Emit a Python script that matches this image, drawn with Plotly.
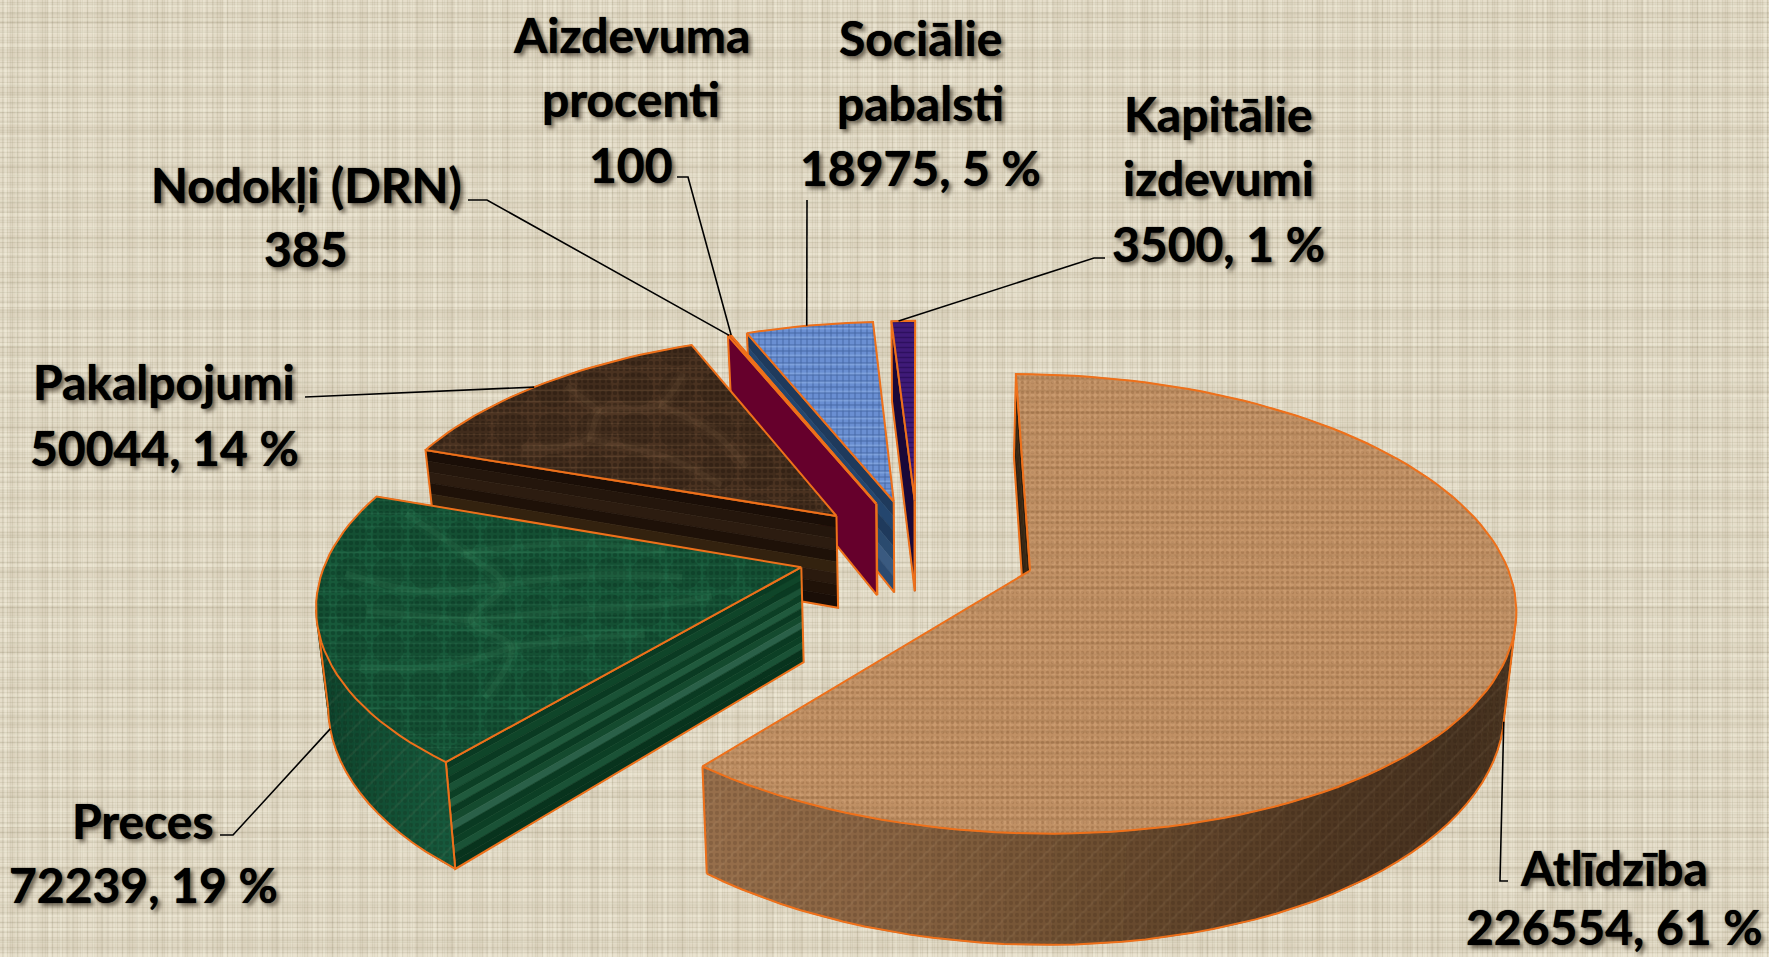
import math
import plotly.graph_objects as go

# ---- data ----
slice_names = ["Atlīdzība", "Preces", "Pakalpojumi", "Nodokļi (DRN)", "Aizdevuma procenti", "Sociālie pabalsti", "Kapitālie izdevumi"]
slice_values = [226554, 72239, 50044, 385, 100, 18975, 3500]
label_lines = [
    ["Atlīdzība", "226554, 61 %"],
    ["Preces", "72239, 19 %"],
    ["Pakalpojumi", "50044, 14 %"],
    ["Nodokļi (DRN)", "385"],
    ["Aizdevuma", "procenti", "100"],
    ["Sociālie", "pabalsti", "18975, 5 %"],
    ["Kapitālie", "izdevumi", "3500, 1 %"],
]

# ---- style ----
W, H_PX = 1769, 957
explode = [0.245, 0.25, 0.24, 0.24, 0.24, 0.24, 0.24]
radius = [0.985, 0.985, 0.98, 0.98, 0.98, 0.98, 0.98]
CX, CY, S, SE, K, T, DEPTH = 918, 552, 480, 223, 0.145, 0.02, 94
ORANGE = "#EE701A"
top_col = ["#C09064", "#17593A", "#4A3220", "#7A0030", "#7A0030", "#6A8FD2", "#3F1A78"]
top_pat = [
    [(".", "rgba(130,84,46,0.30)", 5, 0.35), (".", "rgba(225,180,135,0.28)", 7, 0.3), ("-", "rgba(120,78,42,0.18)", 11, 0.2)],
    [(".", "rgba(8,50,30,0.40)", 6, 0.45), (".", "rgba(8,45,28,0.22)", 37, 0.6), ("-", "rgba(70,150,110,0.20)", 13, 0.12)],
    [(".", "rgba(30,18,10,0.38)", 6, 0.45), (".", "rgba(30,18,10,0.20)", 41, 0.6), ("-", "rgba(150,115,80,0.20)", 11, 0.12)],
    [], [],
    [("+", "rgba(45,75,135,0.60)", 6, 0.3), ("-", "rgba(170,200,245,0.3)", 9, 0.2)],
    [("-", "rgba(30,5,70,0.5)", 5, 0.3)],
]
# marble veins: polylines given as (fraction across the slice's angle, fraction of its radius)
veins = {
    1: [
        [(0.95, 0.90), (0.80, 0.72), (0.62, 0.62), (0.45, 0.70), (0.28, 0.66), (0.12, 0.80)],
        [(0.62, 0.62), (0.66, 0.42), (0.58, 0.25)],
        [(0.80, 0.72), (0.90, 0.50), (0.93, 0.30)],
        [(0.45, 0.70), (0.40, 0.48), (0.30, 0.34), (0.22, 0.22)],
        [(0.28, 0.66), (0.20, 0.50), (0.10, 0.42)],
        [(0.55, 0.90), (0.45, 0.70)],
        [(0.35, 0.95), (0.28, 0.80), (0.28, 0.66)],
        [(0.70, 0.95), (0.62, 0.80), (0.62, 0.62)],
    ],
    2: [
        [(0.90, 0.85), (0.70, 0.72), (0.50, 0.78), (0.30, 0.70), (0.12, 0.80)],
        [(0.70, 0.72), (0.74, 0.50), (0.62, 0.32)],
        [(0.30, 0.70), (0.36, 0.48), (0.22, 0.30)],
        [(0.50, 0.78), (0.55, 0.95)],
    ],
}
vein_rgb = {1: "100,190,145", 2: "175,140,100"}
radial_bands = {
    0: ["#2E1F10", "#3A2814", "#2E1F10"],
    1: ["#0A3A22", "#0F4529", "#0A3A22", "#1A5236", "#0C3F25", "#205A3D", "#0A3A22", "#144A2E",
        "#2A6048", "#0A3A22", "#0C3F25", "#1A5236", "#08331D", "#08331D"],
    2: ["#1A0E07", "#24160C", "#2C1C10", "#1E1108", "#33220F", "#2A1A0E", "#201208", "#1A0E07"],
    3: ["#66002C"], 4: ["#66002C"],
    5: ["#1F3A5C", "#24466E", "#1F3A5C", "#2A4A6E", "#3A5A80", "#2B4A70"],
    6: ["#1A0838"],
}
curve_grad = {
    0: [(75, 54, 34), (70, 50, 32), (80, 56, 35), (105, 75, 47), (135, 98, 65), (150, 110, 75)],
    1: [(22, 88, 60), (18, 78, 52), (15, 70, 46), (12, 62, 42)],
    2: [(30, 18, 10), (30, 18, 10)],
    3: [(102, 0, 44), (102, 0, 44)], 4: [(102, 0, 44), (102, 0, 44)],
    5: [(40, 70, 110), (40, 70, 110)], 6: [(26, 8, 56), (26, 8, 56)],
}
draw_order = [6, 5, 4, 3, 2, 1, 0]
label_pos = {
    0: [(1614, 867), (1614, 926)],
    1: [(143, 820), (143, 884)],
    2: [(164, 381), (164, 447)],
    3: [(306, 184), (306, 248)],
    4: [(631, 34), (631, 98), (631, 164)],
    5: [(920, 37), (920, 102), (920, 167)],
    6: [(1218, 113), (1218, 177), (1218, 243)],
}
# leader: elbow points of the label end, then the slice index, arc fraction and depth fraction it hits
leaders = [
    ([(1508, 881), (1500, 881)], 0, 0.47, 1.0),
    ([(220, 835), (233, 835)], 1, 0.50, 1.0),
    ([(305, 397)], 2, 0.48, 0.0),
    ([(468, 200), (487, 200)], 3, 0.5, 0.0),
    ([(677, 177), (688, 177)], 4, 0.5, 0.0),
    ([(807, 200), (807, 226)], 5, 0.48, 0.0),
    ([(1105, 258), (1094, 258)], 6, 0.3, 0.0),
]

# ---- geometry from values ----
total = sum(slice_values)
edges = [0.0]
for v in slice_values:
    edges.append(edges[-1] + v / total * 360)


def dir_of(deg):
    a = math.radians(deg)
    return math.sin(a), math.cos(a)


def proj(X, Y, z=0.0):
    d = 1 + K * Y
    x = CX + S * X / d
    y = CY - SE * Y / d
    x = CX + (x - CX) * (1 - T * z)
    return x, y + DEPTH * z / d


def apex(i):
    b = (edges[i] + edges[i + 1]) / 2
    dx, dy = dir_of(b)
    return explode[i] * dx, explode[i] * dy


def rim(i, deg, frac=1.0):
    ax, ay = apex(i)
    dx, dy = dir_of(deg)
    return ax + frac * radius[i] * dx, ay + frac * radius[i] * dy


def visible(P, n):
    return (0 - P[0]) * n[0] + (-1 / K - P[1]) * n[1] > 0


def arc(i, a, b, z=0.0):
    n = max(2, int(abs(b - a) / 2) + 2)
    return [proj(*rim(i, a + (b - a) * j / (n - 1)), z) for j in range(n)]


fig = go.Figure()


def poly(pts, fill, line=None, width=1.0, pattern=None):
    xs = [p[0] for p in pts] + [pts[0][0]]
    ys = [p[1] for p in pts] + [pts[0][1]]
    kw = dict(x=xs, y=ys, mode="lines", fill="toself", fillcolor=fill, hoverinfo="skip", showlegend=False,
              line=dict(color=line or fill, width=width))
    if pattern:
        kw["fillpattern"] = dict(shape=pattern[0], fgcolor=pattern[1], size=pattern[2], solidity=pattern[3],
                                 bgcolor=fill, fillmode="replace")
    fig.add_trace(go.Scatter(**kw))


def overlay(pts, pattern):
    poly(pts, "rgba(0,0,0,0)", line="rgba(0,0,0,0)", width=0, pattern=pattern)


def stroke(pts, width=2.0, color=ORANGE, shape="linear"):
    fig.add_trace(go.Scatter(x=[p[0] for p in pts], y=[p[1] for p in pts], mode="lines", hoverinfo="skip",
                             showlegend=False, line=dict(color=color, width=width, shape=shape)))


def mix(stops, t):
    t = min(max(t, 0), 1) * (len(stops) - 1)
    j = min(int(t), len(stops) - 2)
    f = t - j
    c = [stops[j][q] * (1 - f) + stops[j + 1][q] * f for q in range(3)]
    return "rgb(%d,%d,%d)" % tuple(c)


def radial_face(i, deg, normal_deg):
    A = apex(i)
    R = rim(i, deg)
    mid = ((A[0] + R[0]) / 2, (A[1] + R[1]) / 2)
    if not visible(mid, dir_of(normal_deg)):
        return
    bands = radial_bands[i]
    for b, col in enumerate(bands):
        z0, z1 = b / len(bands), (b + 1) / len(bands)
        poly([proj(*A, z0), proj(*R, z0), proj(*R, z1), proj(*A, z1)], col, width=0.6)
    stroke([proj(*A), proj(*R), proj(*R, 1), proj(*A, 1), proj(*A)])


def curved_face(i):
    a, b = edges[i], edges[i + 1]
    n = max(2, int((b - a) / 2.5) + 2)
    degs = [a + (b - a) * j / (n - 1) for j in range(n)]
    vis = [d for d in degs if visible(rim(i, d), dir_of(d))]
    if len(vis) < 2:
        return
    stops = curve_grad[i]
    for j in range(len(vis) - 1):
        d0, d1 = vis[j], vis[j + 1]
        col = mix(stops, j / (len(vis) - 2) if len(vis) > 2 else 0)
        P0, P1 = rim(i, d0), rim(i, d1)
        poly([proj(*P0), proj(*P1), proj(*P1, 1), proj(*P0, 1)], col, width=0.8)
    top = [proj(*rim(i, d)) for d in vis]
    bot = [proj(*rim(i, d), 1) for d in vis]
    overlay(top + bot[::-1], (".", "rgba(20,10,0,0.13)", 6, 0.4))
    overlay(top + bot[::-1], ("/", "rgba(230,200,160,0.06)", 17, 0.12))
    stroke(bot)
    stroke([top[0], bot[0]])
    stroke([top[-1], bot[-1]])


# linen background, spanning the axes
bg = [(0, 0), (W, 0), (W, H_PX), (0, H_PX)]
poly(bg, "#E6DECA")
for shape, col, size, sol in [
    ("|", "rgba(150,140,112,0.17)", 5, 0.22), ("-", "rgba(150,140,112,0.17)", 5, 0.22),
    ("|", "rgba(135,125,98,0.11)", 7, 0.2), ("-", "rgba(135,125,98,0.11)", 9, 0.2),
    ("|", "rgba(255,250,235,0.16)", 11, 0.22), ("-", "rgba(255,250,235,0.16)", 13, 0.22),
    ("|", "rgba(120,110,85,0.06)", 29, 0.35), ("-", "rgba(120,110,85,0.06)", 37, 0.3),
]:
    overlay(bg, (shape, col, size, sol))

for i in draw_order:
    a, b = edges[i], edges[i + 1]
    radial_face(i, a, a - 90)
    radial_face(i, b, b + 90)
    curved_face(i)
    outline = [proj(*apex(i))] + arc(i, a, b)
    poly(outline, top_col[i])
    for p in top_pat[i]:
        overlay(outline, p)
    for vein in veins.get(i, []):
        pts = [proj(*rim(i, a + (b - a) * fa, fr)) for fa, fr in vein]
        stroke(pts, width=14, color="rgba(%s,0.05)" % vein_rgb[i], shape="spline")
        stroke(pts, width=6, color="rgba(%s,0.08)" % vein_rgb[i], shape="spline")
    stroke(outline + [outline[0]])

for elbow, i, f, z in leaders:
    deg = edges[i] + (edges[i + 1] - edges[i]) * f
    end = proj(*rim(i, deg), z)
    stroke(elbow + [end], width=1.6, color="#000000")

annotations = []
for i, lines in enumerate(label_lines):
    for line, (x, y) in zip(lines, label_pos[i]):
        annotations.append(dict(x=x, y=y, xref="x", yref="y", text="<b>%s</b>" % line, showarrow=False,
                                xanchor="center", yanchor="middle",
                                font=dict(family="Lato", size=48, color="#000000",
                                          shadow="0 0 1px #000000, 3px 3px 4px rgba(50,40,25,0.7)")))

fig.update_layout(
    width=W, height=H_PX, margin=dict(l=0, r=0, t=0, b=0), paper_bgcolor="#E6DECA", plot_bgcolor="#E6DECA",
    showlegend=False, annotations=annotations, hovermode=False,
    xaxis=dict(range=[0, W], visible=False, fixedrange=True),
    yaxis=dict(range=[H_PX, 0], visible=False, fixedrange=True),
)
fig.write_html("out.html", config={"displayModeBar": False},
               post_script="document.body.style.margin='0';document.body.style.background='#E6DECA';document.documentElement.style.overflow='hidden';")
